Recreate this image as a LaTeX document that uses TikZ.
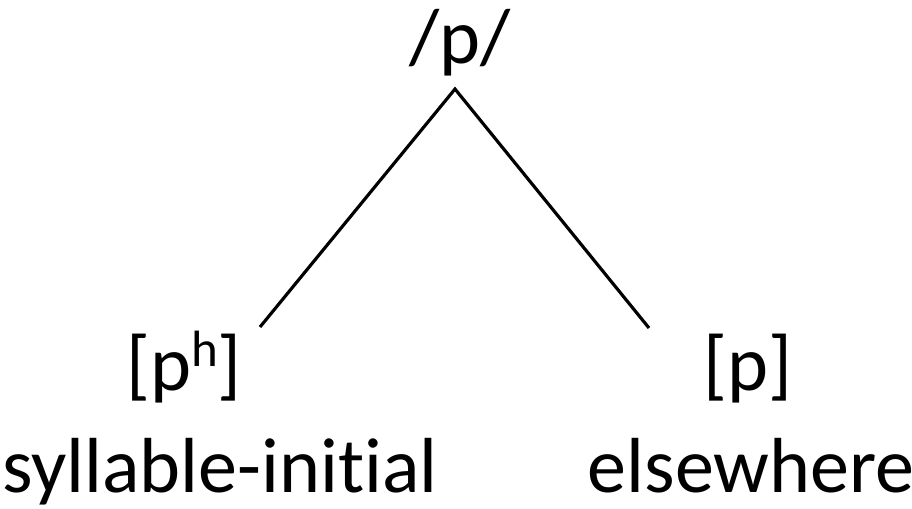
\documentclass[tikz,border=0pt]{standalone}
\usepackage{fontspec}
\setmainfont{Carlito}[Ligatures=NoCommon]
\begin{document}
\begin{tikzpicture}[x=0.01cm,y=-0.01cm,
  lbl/.style={anchor=base,inner sep=0pt,font=\fontsize{22.2pt}{26pt}\selectfont},
  branch/.style={line width=0.9pt,line cap=butt}]
\useasboundingbox (0,0) rectangle (912,508);
\node[lbl] (root) at (460,63) {/p/};
\coordinate (apex) at (455,89);
\coordinate (lend) at (260,327);
\coordinate (rend) at (649,328);
\node[lbl] (ph) at (184,390) {[p\raisebox{0.3em}{\fontsize{14.5pt}{16pt}\selectfont h}]};
\node[lbl] (p) at (747.5,390) {[p]};
\node[lbl] (si) at (220,492) {syllable-initial};
\node[lbl] (else) at (751,492) {elsewhere};
\draw[branch] (lend) -- (apex) -- (rend);
\end{tikzpicture}
\end{document}
